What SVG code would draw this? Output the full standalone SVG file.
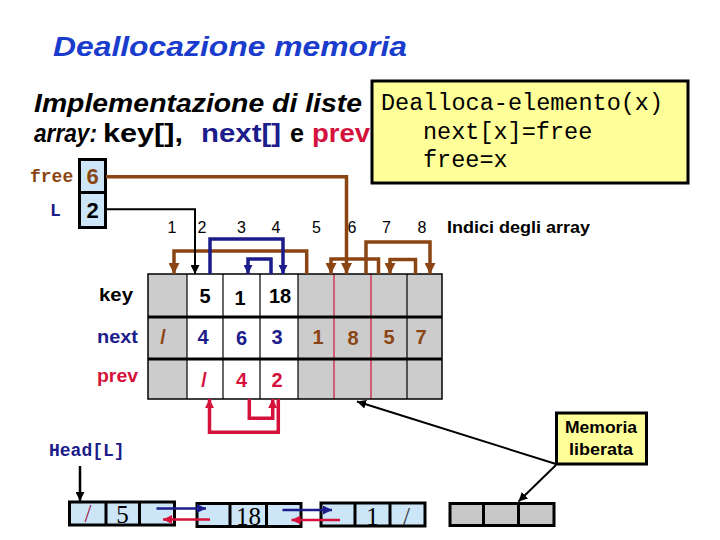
<svg xmlns="http://www.w3.org/2000/svg" width="720" height="540" viewBox="0 0 720 540">
<style>
.sans{font-family:"Liberation Sans",Arial,sans-serif}
.mono{font-family:"Liberation Mono","Courier New",monospace}
.serif{font-family:"Liberation Serif","Times New Roman",serif}
.b{font-weight:bold}
.it{font-style:italic}
.navy{fill:#1c1c8a}
.red{fill:#d4123c}
.brown{fill:#8b4513}
.idx{font-family:"Liberation Sans",Arial,sans-serif;font-size:16px;text-anchor:middle}
.cell{font-family:"Liberation Sans",Arial,sans-serif;font-size:20px;font-weight:bold;text-anchor:middle}
.lnode{fill:#cce6f8;stroke:#000;stroke-width:3}
.gnode{fill:#c8c8c8;stroke:#000;stroke-width:3}
.ntxt{font-family:"Liberation Serif","Times New Roman",serif;font-size:25px;text-anchor:middle}
</style>
<defs>
<marker id="ab" viewBox="0 0 10 10" refX="10" refY="5" markerWidth="11" markerHeight="11" markerUnits="userSpaceOnUse" orient="auto"><path d="M0,0L10,5L0,10z" fill="#8b4513"/></marker>
<marker id="an" viewBox="0 0 10 10" refX="10" refY="5" markerWidth="9" markerHeight="9" markerUnits="userSpaceOnUse" orient="auto"><path d="M0,0L10,5L0,10z" fill="#1c1c8a"/></marker>
<marker id="ar" viewBox="0 0 10 10" refX="10" refY="5" markerWidth="9" markerHeight="9" markerUnits="userSpaceOnUse" orient="auto"><path d="M0,0L10,5L0,10z" fill="#d4123c"/></marker>
<marker id="ak" viewBox="0 0 10 10" refX="10" refY="5" markerWidth="9" markerHeight="9" markerUnits="userSpaceOnUse" orient="auto"><path d="M0,0L10,5L0,10z" fill="#000"/></marker>
</defs>
<rect width="720" height="540" fill="#fff"/>

<text x="53" y="56" class="sans b it" font-size="27" fill="#1a3ccc" textLength="354" lengthAdjust="spacingAndGlyphs">Deallocazione memoria</text>

<g id="heading">
<text x="34" y="112" class="sans b it" font-size="25" textLength="328" lengthAdjust="spacingAndGlyphs">Implementazione di liste</text>
<text x="34" y="142" class="sans b it" font-size="25" textLength="63" lengthAdjust="spacingAndGlyphs">array:</text>
<text x="103" y="142" class="sans b" font-size="25" textLength="80" lengthAdjust="spacingAndGlyphs">key[],</text>
<text x="201" y="142" class="sans b navy" font-size="25" textLength="80" lengthAdjust="spacingAndGlyphs">next[]</text>
<text x="290" y="142" class="sans b" font-size="25" textLength="14" lengthAdjust="spacingAndGlyphs">e</text>
<text x="312" y="142" class="sans b red" font-size="25" textLength="58" lengthAdjust="spacingAndGlyphs">prev</text>
</g>

<g id="code-box">
<rect x="372" y="81" width="316" height="102" fill="#ffff99" stroke="#000" stroke-width="3"/>
<text x="381" y="110" class="mono" font-size="23.5">Dealloca-elemento(x)</text>
<text x="423" y="139" class="mono" font-size="23.5">next[x]=free</text>
<text x="423" y="167" class="mono" font-size="23.5">free=x</text>
</g>

<g id="free-var">
<text x="30" y="182" class="mono b brown" font-size="18">free</text>
<rect x="79.5" y="159.5" width="26" height="33" fill="#cce6f8" stroke="#000" stroke-width="3"/>
<text x="92.5" y="184" class="sans b brown" font-size="22" text-anchor="middle">6</text>
</g>
<g id="L-var">
<text x="50" y="216" class="mono b navy" font-size="18">L</text>
<rect x="79.5" y="192.5" width="26" height="35" fill="#cce6f8" stroke="#000" stroke-width="3"/>
<text x="92.5" y="218" class="sans b" font-size="22" text-anchor="middle">2</text>
</g>

<g id="indices">
<text x="172" y="233" class="idx">1</text>
<text x="202" y="233" class="idx">2</text>
<text x="241.5" y="233" class="idx">3</text>
<text x="276" y="233" class="idx">4</text>
<text x="316.5" y="233" class="idx">5</text>
<text x="352" y="233" class="idx">6</text>
<text x="386.5" y="233" class="idx">7</text>
<text x="422" y="233" class="idx">8</text>
<text x="447" y="233" class="sans b" font-size="16" textLength="143" lengthAdjust="spacingAndGlyphs">Indici degli array</text>
</g>

<g id="table">
<text x="99" y="301" class="sans b" font-size="19" textLength="34" lengthAdjust="spacingAndGlyphs">key</text>
<text x="97" y="343" class="sans b navy" font-size="19" textLength="41" lengthAdjust="spacingAndGlyphs">next</text>
<text x="97" y="382" class="sans b red" font-size="19" textLength="41" lengthAdjust="spacingAndGlyphs">prev</text>
<rect x="148" y="274" width="39" height="125" fill="#cccccc"/>
<rect x="187" y="274" width="111" height="125" fill="#fff"/>
<rect x="298" y="274" width="144" height="125" fill="#cccccc"/>
<g stroke="#000" stroke-width="1.2">
<line x1="187" y1="274" x2="187" y2="399"/>
<line x1="223" y1="274" x2="223" y2="399"/>
<line x1="260" y1="274" x2="260" y2="399"/>
<line x1="298" y1="274" x2="298" y2="399"/>
<line x1="407" y1="274" x2="407" y2="399"/>
</g>
<g stroke="#d4123c" stroke-width="1.2">
<line x1="334" y1="274" x2="334" y2="399"/>
<line x1="371" y1="274" x2="371" y2="399"/>
</g>
<rect x="148" y="274" width="294" height="125" fill="none" stroke="#000" stroke-width="1.5"/>
<g stroke="#000" stroke-width="3">
<line x1="148" y1="317" x2="442" y2="317"/>
<line x1="148" y1="359" x2="442" y2="359"/>
</g>
<text x="205" y="303" class="cell">5</text>
<text x="240" y="305" class="cell">1</text>
<text x="280" y="303" class="cell">18</text>
<text x="163" y="344" class="cell brown">/</text>
<text x="203" y="344" class="cell navy">4</text>
<text x="241.5" y="345" class="cell navy">6</text>
<text x="277" y="344" class="cell navy">3</text>
<text x="318" y="344" class="cell brown">1</text>
<text x="353" y="345" class="cell brown">8</text>
<text x="389" y="344" class="cell brown">5</text>
<text x="421" y="344" class="cell brown">7</text>
<text x="204" y="387" class="cell red">/</text>
<text x="241.5" y="387" class="cell red">4</text>
<text x="277" y="387" class="cell red">2</text>
</g>

<g id="head-label">
<text x="49" y="456" class="mono b navy" font-size="18">Head[L]</text>
</g>

<g id="node1">
<rect x="69.5" y="502" width="105" height="23" class="lnode"/>
<line x1="106" y1="502" x2="106" y2="525" stroke="#000" stroke-width="3"/>
<line x1="139.5" y1="502" x2="139.5" y2="525" stroke="#000" stroke-width="3"/>
<text x="88" y="522" class="ntxt" fill="#a0204a">/</text>
<text x="122.5" y="523" class="ntxt">5</text>
</g>
<g id="node2">
<rect x="197" y="503.5" width="104" height="23" class="lnode"/>
<line x1="230" y1="503.5" x2="230" y2="526.5" stroke="#000" stroke-width="3"/>
<line x1="266.5" y1="503.5" x2="266.5" y2="526.5" stroke="#000" stroke-width="3"/>
<text x="248.5" y="525" class="ntxt">18</text>
</g>
<g id="node3">
<rect x="321" y="503" width="104" height="23" class="lnode"/>
<line x1="355" y1="503" x2="355" y2="526" stroke="#000" stroke-width="3"/>
<line x1="390" y1="503" x2="390" y2="526" stroke="#000" stroke-width="3"/>
<text x="372.5" y="525" class="ntxt">1</text>
<text x="406.5" y="525" class="ntxt" fill="#333">/</text>
</g>
<g id="free-node">
<rect x="450" y="503.5" width="104" height="22" class="gnode"/>
<line x1="483.5" y1="503.5" x2="483.5" y2="525.5" stroke="#000" stroke-width="3"/>
<line x1="518.5" y1="503.5" x2="518.5" y2="525.5" stroke="#000" stroke-width="3"/>
</g>

<g id="memoria-box">
<rect x="556.5" y="413" width="90" height="51" fill="#ffff99" stroke="#000" stroke-width="3"/>
<text x="601" y="433" class="sans b" font-size="16" text-anchor="middle" textLength="72" lengthAdjust="spacingAndGlyphs">Memoria</text>
<text x="601" y="455" class="sans b" font-size="16" text-anchor="middle" textLength="64" lengthAdjust="spacingAndGlyphs">liberata</text>
</g>

<g id="connectors" fill="none">
<g stroke="#8b4513" stroke-width="3.5">
<path d="M106,176.7H346.5V274" marker-end="url(#ab)"/>
<path d="M306.7,274V251H174V274" marker-end="url(#ab)"/>
<path d="M378.5,274V259H331V274" marker-end="url(#ab)"/>
<path d="M366,274V242H430V274" marker-end="url(#ab)"/>
<path d="M415.5,274V259.5H390V274" marker-end="url(#ab)"/>
</g>
<path d="M106,209.3H195V274" stroke="#000" stroke-width="2" marker-end="url(#ak)"/>
<g stroke="#1c1c8a" stroke-width="3.5">
<path d="M210,274V239H283V274" marker-end="url(#an)"/>
<path d="M271,274V259H248V274" marker-end="url(#an)"/>
</g>
<g stroke="#d4123c" stroke-width="3.5">
<path d="M278.3,399V432.3H209.5V399" marker-end="url(#ar)"/>
<path d="M249.3,399V418.3H272.7V399" marker-end="url(#ar)"/>
</g>
<path d="M80,466V501" stroke="#000" stroke-width="2.5" marker-end="url(#ak)"/>
<path d="M156.5,508.5H206" stroke="#1c1c8a" stroke-width="2.5" marker-end="url(#an)"/>
<path d="M210,519.5H163" stroke="#d4123c" stroke-width="2.5" marker-end="url(#ar)"/>
<path d="M282.5,510H332" stroke="#1c1c8a" stroke-width="2.5" marker-end="url(#an)"/>
<path d="M340,520H291.5" stroke="#d4123c" stroke-width="2.5" marker-end="url(#ar)"/>
<path d="M556,464L357,401.5" stroke="#000" stroke-width="2" marker-end="url(#ak)"/>
<path d="M556,465L518.5,501.5" stroke="#000" stroke-width="2" marker-end="url(#ak)"/>
</g>
</svg>
